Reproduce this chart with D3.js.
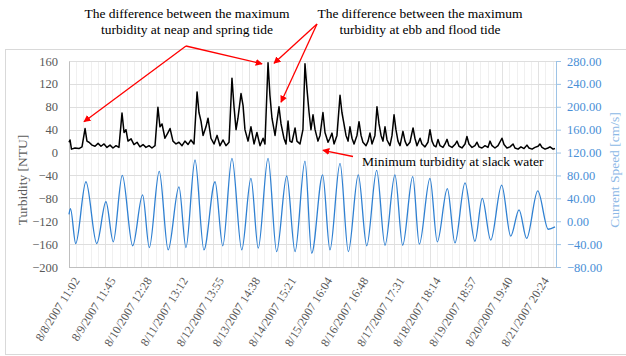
<!DOCTYPE html>
<html>
<head>
<meta charset="utf-8">
<script src="https://cdn.jsdelivr.net/npm/d3@7"></script>
<style>
  body { margin: 0; background: #fff; }
  svg text { font-family: "Liberation Serif", "Times New Roman", serif; }
</style>
</head>
<body>
<div id="vis"></div>
<script>
// tick labels on the time axis (Excel category labels)
const tickLabels = [
  '8/8/2007 11:02', '8/9/2007 11:45', '8/10/2007 12:28', '8/11/2007 13:12',
  '8/12/2007 13:55', '8/13/2007 14:38', '8/14/2007 15:21', '8/15/2007 16:04',
  '8/16/2007 16:48', '8/17/2007 17:31', '8/18/2007 18:14', '8/19/2007 18:57',
  '8/20/2007 19:40', '8/21/2007 20:24'
];
const turbidityTicks = [-200, -160, -120, -80, -40, 0, 40, 80, 120, 160];
const speedTicks = [-80, -40, 0, 40, 80, 120, 160, 200, 240, 280];

// hours since first label
const turbHours = [0, 0.7, 1.7, 4.1, 6.8, 8.9, 11.0, 12.3, 13.7, 15.8, 17.8, 19.9, 21.9, 24.0, 26.0, 28.1, 30.1, 32.2, 34.2,
  36.3, 37.7, 39.0, 40.4, 42.5, 44.5, 46.6, 48.6, 50.7, 52.7, 54.8, 56.8, 58.9, 60.9, 62.3, 63.7, 65.7, 67.8, 69.2,
  71.2, 73.3, 75.3, 77.4, 79.4, 81.5, 83.5, 85.6, 87.7, 89.0, 90.4, 91.8, 93.8, 95.2, 97.2, 99.3, 101.4, 103.4,
  105.5, 107.5, 109.6, 111.6, 113.0, 114.4, 115.7, 117.8, 119.2, 120.5, 122.6, 124.6, 126.7, 128.7, 130.8, 132.9,
  134.2, 136.3, 137.6, 139.0, 141.1, 142.4, 143.8, 145.2, 147.2, 148.6, 150.0, 151.3, 152.7, 154.8, 156.1, 158.2,
  160.2, 161.6, 163.0, 164.4, 165.7, 167.1, 168.5, 170.5, 171.9, 173.9, 175.3, 177.4, 178.7, 180.1, 181.5, 183.5,
  185.6, 186.9, 188.3, 189.7, 191.1, 192.4, 193.8, 195.2, 197.2, 198.6, 200.0, 201.3, 203.4, 204.8, 206.1, 207.5,
  209.5, 210.9, 212.3, 213.7, 215.0, 216.4, 217.8, 219.8, 221.2, 222.6, 223.9, 225.3, 226.7, 228.7, 230.1, 231.5,
  233.5, 235.6, 236.9, 238.3, 240.4, 241.7, 243.8, 245.8, 247.2, 248.6, 250.0, 251.3, 252.7, 254.1, 256.1, 257.5,
  258.9, 260.2, 262.3, 264.3, 265.7, 267.1, 269.1, 271.2, 272.5, 273.9, 276.0, 278.0, 279.4, 280.8, 282.8, 284.9,
  286.9, 288.3, 289.7, 291.7, 293.8, 296.5, 297.9, 299.9, 302.0, 304.1, 305.4, 307.5, 309.5, 311.6, 313.6, 315.0,
  317.1, 319.1, 321.2, 322.5, 323.9, 326.0, 328.0, 329.4, 331.5, 332.8];
const turbValues = [18, 22, 6, 8, 7, 10, 42, 20, 18, 13, 11, 16, 11, 15, 9, 13, 8, 12, 9,
  69, 35, 40, 20, 24, 14, 18, 10, 14, 9, 12, 8, 12, 79, 45, 50, 25, 35, 42,
  20, 15, 18, 12, 20, 14, 22, 15, 106, 70, 55, 30, 45, 60, 25, 15, 30, 12,
  22, 12, 18, 130, 80, 40, 60, 103, 82, 40, 20, 45, 15, 35, 12, 25,
  15, 157, 100, 60, 30, 55, 80, 50, 25, 15, 55, 20, 18, 43, 20, 15,
  40, 155, 110, 70, 40, 66, 40, 20, 30, 70, 35, 18, 25, 34, 15, 30,
  100, 70, 50, 30, 20, 45, 25, 15, 30, 54, 30, 18, 12, 20, 34, 15,
  30, 80, 50, 30, 20, 45, 22, 12, 30, 66, 40, 20, 12, 37, 20, 12,
  18, 43, 25, 12, 25, 15, 10, 18, 40, 20, 12, 10, 23, 12, 9, 15,
  23, 12, 9, 14, 20, 11, 8, 15, 28, 15, 9, 12, 18, 10, 8, 12,
  9, 20, 12, 8, 12, 25, 14, 8, 10, 15, 8, 6, 10, 7, 13, 8,
  6, 9, 11, 15, 9, 6, 8, 10, 6, 7];

const speedHours = [0, 1.0, 4.6, 11.6, 19.0, 25.3, 30.3, 36.5, 43.6, 50.4, 55.0, 61.8, 67.9, 75.3, 80.1, 86.3,
  92.4, 100.0, 105.3, 111.6, 118.3, 124.6, 129.6, 136.3, 142.2, 149.1, 154.8, 161.6, 166.2, 173.7, 178.7,
  185.6, 191.3, 198.1, 203.9, 210.7, 216.4, 223.2, 228.5, 235.4, 239.9, 247.2, 252.2, 259.1, 264.3, 271.2,
  278.0, 283.0, 288.8, 296.3, 302.5, 308.2, 313.4, 321.0, 328.2, 332.8];
const speedValues = [12, 22, -39, 69, -39, 34, -36, 80, -43, 46, -46, 87, -50, 60, -46, 107,
  -50, 69, -43, 110, -50, 75, -47, 110, -53, 79, -53, 105, -56, 81, -50,
  101, -53, 81, -43, 89, -42, 81, -42, 78, -40, 75, -36, 57, -38, 67,
  -35, 40, -33, 63, -26, 20, -30, 53, -14, -10];

const W = 626, H = 356;
const plot = {left: 69, right: 556, top: 61, bottom: 267};
const totalHours = 333.5;

const parse = d3.timeParse('%m/%d/%Y %H:%M');
const tickDates = tickLabels.map(parse);
const start = tickDates[0];
const atHour = h => new Date(start.getTime() + h * 3600e3);

const svg = d3.select('#vis').append('svg')
  .attr('width', W).attr('height', H);

// chart area border
svg.append('rect')
  .attr('x', 5.5).attr('y', 49.5)
  .attr('width', 640).attr('height', 305)
  .attr('fill', 'none').attr('stroke', '#d9d9d9');

const x = d3.scaleTime()
  .domain([start, atHour(totalHours)])
  .range([plot.left, plot.right]);
const yL = d3.scaleLinear().domain([-200, 160]).range([plot.bottom, plot.top]);
const yR = d3.scaleLinear().domain([-80, 280]).range([plot.bottom, plot.top]);

// vertical gridlines: minor (5 per label step) then major at labels
const step = x(tickDates[1]) - x(tickDates[0]);
const minorX = d3.range(0, Math.floor((plot.right - plot.left) / (step / 5)) + 1)
  .map(i => plot.left + i * step / 5)
  .filter(v => v < plot.right - 1);
svg.append('g').selectAll('line').data(minorX).join('line')
  .attr('x1', d => Math.round(d) + 0.5).attr('x2', d => Math.round(d) + 0.5)
  .attr('y1', plot.top).attr('y2', plot.bottom)
  .attr('stroke', '#f0f0f0');
svg.append('g').selectAll('line').data(tickDates.slice(1)).join('line')
  .attr('x1', d => Math.round(x(d)) + 0.5).attr('x2', d => Math.round(x(d)) + 0.5)
  .attr('y1', plot.top).attr('y2', plot.bottom)
  .attr('stroke', '#e2e2e2');

// horizontal gridlines
svg.append('g').selectAll('line').data(turbidityTicks).join('line')
  .attr('x1', plot.left).attr('x2', plot.right)
  .attr('y1', d => Math.round(yL(d)) + 0.5).attr('y2', d => Math.round(yL(d)) + 0.5)
  .attr('stroke', '#dedede');

// left axis
const leftAxis = svg.append('g')
  .attr('transform', `translate(${plot.left},0)`)
  .call(d3.axisLeft(yL).tickValues(turbidityTicks).tickSize(0).tickPadding(11));
leftAxis.select('.domain').attr('stroke', '#bfbfbf');
leftAxis.selectAll('text')
  .attr('fill', '#595959').style('font-size', '12.5px');

// right axis
const rightAxis = svg.append('g')
  .attr('transform', `translate(${plot.right},0)`)
  .call(d3.axisRight(yR).tickValues(speedTicks).tickFormat(d3.format('.2f'))
    .tickSize(5).tickSizeOuter(0).tickPadding(6));
rightAxis.select('.domain').attr('stroke', '#9dc3e6');
rightAxis.selectAll('line').attr('stroke', '#9dc3e6');
rightAxis.selectAll('text')
  .attr('fill', '#4a8fd6').style('font-size', '12.5px');

// bottom axis
svg.append('line')
  .attr('x1', plot.left).attr('x2', plot.right)
  .attr('y1', plot.bottom + 0.5).attr('y2', plot.bottom + 0.5)
  .attr('stroke', '#bfbfbf');
svg.append('g').selectAll('text').data(tickDates).join('text')
  .attr('transform', d => `translate(${x(d) + 4},${plot.bottom + 9}) rotate(-58)`)
  .attr('text-anchor', 'end')
  .attr('dy', '0.7em')
  .attr('fill', '#595959')
  .style('font-size', '12px')
  .text((d, i) => tickLabels[i]);

// axis titles
svg.append('text')
  .attr('transform', `translate(27,${(plot.top + plot.bottom) / 2 + 16}) rotate(-90)`)
  .attr('text-anchor', 'middle')
  .attr('fill', '#595959')
  .style('font-size', '13.5px')
  .text('Turbidity [NTU]');
svg.append('text')
  .attr('transform', `translate(619,${(plot.top + plot.bottom) / 2 + 6}) rotate(-90)`)
  .attr('text-anchor', 'middle')
  .attr('fill', '#8db8e6')
  .style('font-size', '13.5px')
  .text('Current Speed [cm/s]');

// series
const turbLine = d3.line()
  .x((d, i) => x(atHour(turbHours[i])))
  .y(d => yL(d));
svg.append('path')
  .datum(turbValues)
  .attr('d', turbLine)
  .attr('fill', 'none')
  .attr('stroke', '#000')
  .attr('stroke-width', 1.5)
  .attr('stroke-linejoin', 'round');

const speedLine = d3.line()
  .x((d, i) => x(atHour(speedHours[i])))
  .y(d => yR(d))
  .curve(d3.curveMonotoneX);
svg.append('path')
  .datum(speedValues)
  .attr('d', speedLine)
  .attr('fill', 'none')
  .attr('stroke', '#2f80d2')
  .attr('stroke-width', 1.3);

// annotations: text boxes (pixels) and arrow targets (data units)
const notes = [
  {lines: ['The difference between the maximum', 'turbidity at neap and spring tide'], cx: 187, y: 18, anchor: 'middle',
   from: [186, 46], to: [[10.3, 54], [132.2, 155]]},
  {lines: ['The difference between the maximum', 'turbidity at ebb and flood tide'], cx: 420, y: 18, anchor: 'middle',
   from: [317, 24], to: [[140.4, 156], [145.2, 88]]},
  {lines: ['Minimum turbidity at slack water'], cx: 362, y: 166, anchor: 'start',
   from: [353, 156.5], to: [[173.9, 4]]}
];

svg.append('defs').append('marker')
  .attr('id', 'arrow')
  .attr('viewBox', '0 0 10 10')
  .attr('refX', 9).attr('refY', 5)
  .attr('markerWidth', 7).attr('markerHeight', 7)
  .attr('markerUnits', 'userSpaceOnUse')
  .attr('orient', 'auto')
  .append('path')
  .attr('d', 'M0,0 L10,5 L0,10 z')
  .attr('fill', '#ff0000');

notes.forEach(n => {
  const t = svg.append('text')
    .attr('x', n.cx).attr('y', n.y)
    .attr('text-anchor', n.anchor)
    .attr('fill', '#000')
    .style('font-size', '13.5px');
  n.lines.forEach((l, i) => {
    t.append('tspan').attr('x', n.cx).attr('dy', i === 0 ? 0 : 15.5).text(l);
  });
  n.to.forEach(p => {
    svg.append('line')
      .attr('x1', n.from[0]).attr('y1', n.from[1])
      .attr('x2', x(atHour(p[0]))).attr('y2', yL(p[1]))
      .attr('stroke', '#ff0000')
      .attr('stroke-width', 1.3)
      .attr('marker-end', 'url(#arrow)');
  });
});
</script>
</body>
</html>
